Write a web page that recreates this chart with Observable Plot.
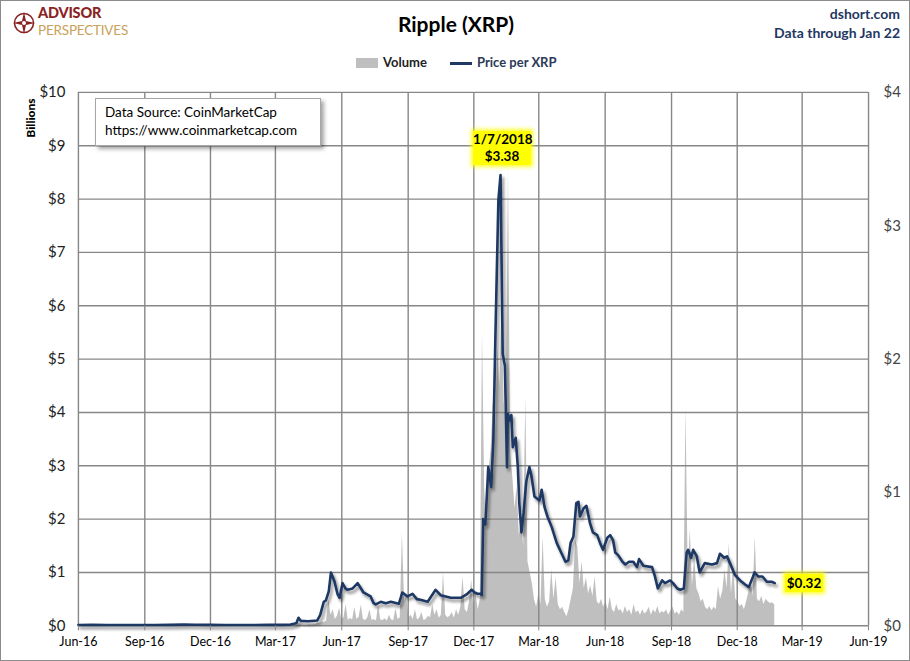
<!DOCTYPE html>
<html>
<head>
<meta charset="utf-8">
<script src="https://cdn.jsdelivr.net/npm/d3@7"></script>
<script src="https://cdn.jsdelivr.net/npm/@observablehq/plot@0.6"></script>
<style>
  html, body { margin: 0; padding: 0; background: #fff; }
  #wrap { position: relative; width: 910px; height: 661px; box-sizing: border-box; border: 1px solid #8c8c8c; overflow: hidden; font-family: Lato, "Open Sans", sans-serif; }
  #chart { position: absolute; left: -1px; top: -1px; }
  .ov { position: absolute; white-space: nowrap; }
</style>
</head>
<body>
<div id="wrap">
  <div id="chart"></div>
  <!-- logo -->
  <svg class="ov" style="left:11px;top:10px" width="24" height="24" viewBox="0 0 24 24">
    <circle cx="12" cy="12" r="9.5" fill="none" stroke="#8b2323" stroke-width="1.6"/>
    <polygon points="12,1 14,10 23,12 14,14 12,23 10,14 1,12 10,10" fill="#8b2323"/>
    <circle cx="12" cy="12" r="2" fill="#fff"/>
  </svg>
  <div class="ov" style="left:37px;top:5px;font-size:14.5px;font-weight:900;color:#8b2323;letter-spacing:-0.2px;line-height:14px;">ADVISOR</div>
  <div class="ov" style="left:37px;top:23px;font-size:13.5px;font-weight:400;color:#c8a15a;letter-spacing:-0.2px;line-height:12px;">PERSPECTIVES</div>
  <!-- title -->
  <div class="ov" style="left:0;width:910px;top:10px;text-align:center;font-size:21px;font-weight:700;color:#000;">Ripple (XRP)</div>
  <div class="ov" style="right:9px;top:4px;font-size:14px;font-weight:700;color:#1f3864;text-align:right;">dshort.com</div>
  <div class="ov" style="right:9px;top:23px;font-size:14px;font-weight:700;color:#1f3864;text-align:right;">Data through Jan 22</div>
  <!-- legend -->
  <div class="ov" style="left:355px;top:57px;width:22px;height:10px;background:#bfbfbf;"></div>
  <div class="ov" style="left:382px;top:53px;font-size:13px;font-weight:700;color:#222;">Volume</div>
  <div class="ov" style="left:449px;top:61px;width:22px;height:3px;background:#1f3864;"></div>
  <div class="ov" style="left:476px;top:53px;font-size:13px;font-weight:700;color:#2b3a57;">Price per XRP</div>
  <!-- y label -->
  <div class="ov" style="left:29px;top:117px;transform:translate(-50%,-50%) rotate(-90deg);font-size:12px;font-weight:900;color:#000;">Billions</div>
  <!-- data source box -->
  <div class="ov" style="left:94px;top:97px;width:226px;height:48px;box-sizing:border-box;background:#fff;border:1px solid #a6a6a6;box-shadow:3px 3px 4px rgba(0,0,0,0.35);padding:4px 0 0 9px;font-size:13.5px;line-height:18px;color:#000;">Data Source: CoinMarketCap<br>https://www.coinmarketcap.com</div>
  <!-- peak label -->
  <div class="ov" style="left:472px;top:130px;width:58px;height:34px;background:#ffff00;box-shadow:0 0 4px 2px rgba(255,255,0,0.8);text-align:center;font-size:13.5px;font-weight:700;line-height:17px;color:#000;">1/7/2018<br>$3.38</div>
  <!-- last label -->
  <div class="ov" style="left:784px;top:573px;width:38px;height:18px;background:#ffff00;box-shadow:0 0 4px 2px rgba(255,255,0,0.8);text-align:center;font-size:13.5px;font-weight:700;line-height:18px;color:#000;">$0.32</div>
</div>
<script>
// ---------- data ----------
const priceDates = [
"2016-06-01","2016-06-20","2016-07-10","2016-08-01","2016-08-25","2016-09-15","2016-10-05","2016-10-25","2016-11-10","2016-12-01",
"2016-12-20","2017-01-10","2017-02-01","2017-02-20","2017-03-10","2017-03-22","2017-03-30","2017-04-02","2017-04-05","2017-04-15",
"2017-04-28","2017-05-02","2017-05-07","2017-05-10","2017-05-14","2017-05-17","2017-05-22","2017-05-26","2017-05-29","2017-06-02",
"2017-06-06","2017-06-09","2017-06-16","2017-06-23","2017-07-01","2017-07-11","2017-07-15","2017-07-18","2017-07-25","2017-08-01",
"2017-08-08","2017-08-19","2017-08-24","2017-08-31","2017-09-07","2017-09-13","2017-09-18","2017-09-28","2017-10-09","2017-10-16",
"2017-10-30","2017-11-13","2017-11-22","2017-11-28","2017-12-02","2017-12-06","2017-12-10","2017-12-12","2017-12-14","2017-12-17",
"2017-12-21","2017-12-25","2017-12-28","2017-12-31","2018-01-04","2018-01-07","2018-01-10","2018-01-13","2018-01-16","2018-01-17",
"2018-01-20","2018-01-22","2018-01-24","2018-01-28","2018-01-31","2018-02-02","2018-02-05","2018-02-08","2018-02-11","2018-02-12",
"2018-02-16","2018-02-19","2018-02-23","2018-03-02","2018-03-05","2018-03-09","2018-03-13","2018-03-19","2018-03-23","2018-03-26",
"2018-04-01","2018-04-07","2018-04-11","2018-04-14","2018-04-18","2018-04-22","2018-04-25","2018-04-27","2018-05-02","2018-05-06",
"2018-05-11","2018-05-15","2018-05-21","2018-05-25","2018-05-29","2018-06-04","2018-06-08","2018-06-12","2018-06-15","2018-06-19",
"2018-06-25","2018-06-29","2018-07-04","2018-07-10","2018-07-15","2018-07-18","2018-07-24","2018-08-05","2018-08-09","2018-08-13",
"2018-08-19","2018-08-23","2018-08-30","2018-09-03","2018-09-09","2018-09-13","2018-09-18","2018-09-22","2018-09-24","2018-09-28",
"2018-10-01","2018-10-06","2018-10-10","2018-10-17","2018-10-27","2018-11-03","2018-11-07","2018-11-13","2018-11-17","2018-11-21",
"2018-11-28","2018-12-05","2018-12-12","2018-12-17","2018-12-23","2018-12-25","2018-12-30","2019-01-05","2019-01-11","2019-01-18",
"2019-01-22"];
const priceValues = [
0.006,0.007,0.0065,0.0062,0.006,0.0065,0.0072,0.0085,0.008,0.0068,
0.0063,0.0064,0.0065,0.0068,0.0068,0.009,0.02,0.06,0.038,0.034,
0.04,0.08,0.18,0.19,0.26,0.40,0.33,0.24,0.21,0.32,
0.28,0.27,0.28,0.32,0.25,0.22,0.17,0.16,0.18,0.17,
0.18,0.165,0.25,0.22,0.24,0.20,0.195,0.18,0.27,0.23,
0.21,0.21,0.24,0.27,0.25,0.24,0.24,0.23,0.80,0.76,
1.19,1.04,1.39,2.20,3.19,3.38,2.04,1.95,1.19,1.59,
1.54,1.58,1.34,1.41,1.19,0.92,0.70,0.85,1.04,1.09,
1.19,1.12,0.97,0.94,1.02,0.89,0.82,0.74,0.67,0.62,
0.55,0.48,0.49,0.62,0.67,0.92,0.93,0.82,0.88,0.90,
0.77,0.70,0.68,0.62,0.57,0.66,0.68,0.64,0.55,0.53,
0.48,0.46,0.48,0.48,0.44,0.50,0.45,0.44,0.37,0.28,
0.34,0.32,0.34,0.32,0.28,0.27,0.28,0.55,0.57,0.51,
0.57,0.52,0.40,0.47,0.46,0.47,0.54,0.51,0.52,0.47,
0.38,0.34,0.31,0.29,0.37,0.40,0.37,0.37,0.33,0.33,
0.32];

// volume, $ billions: sparse early readings, then one reading every 3 days from 2017-03-30 to 2019-01-22
const earlyVolumeDates = ["2016-06-01","2016-09-01","2016-12-01","2017-03-01","2017-03-25"];
const earlyVolumeValues = [0.0005,0.001,0.001,0.002,0.005];
const volumeStart = "2017-03-30";
const volumeStepDays = 3;
const volumeValues = [
0.01,0.05,0.02,0.015,0.01,0.012,0.02,0.015,0.02,0.025,
0.05,0.04,0.07,0.06,0.09,
0.49,0.2,0.3,0.12,0.18,
0.33,0.12,0.15,0.4,0.1,0.14,0.11,0.35,0.12,0.16,
0.39,0.12,0.1,0.15,0.3,0.1,0.12,0.09,0.38,0.11,
0.1,0.13,0.09,0.2,0.11,0.1,0.32,0.12,0.15,1.74,
0.45,0.54,0.15,0.2,0.12,0.3,0.11,0.14,0.25,0.1,
0.12,0.18,0.15,0.4,0.2,0.3,0.14,0.2,1.0,0.2,
0.15,0.18,0.25,0.14,0.3,0.2,0.35,0.92,0.3,0.25,
0.45,0.86,0.35,0.6,0.3,
0.5,5.5,2.6,1.8,2.9,
3.3,4.2,3.6,5.2,4.5,6.0,4.2,3.8,8.6,3.2,
2.8,2.2,2.6,1.7,2.0,1.5,4.3,1.2,1.0,0.8,
0.5,0.35,0.6,0.4,1.67,0.5,0.35,0.45,1.05,0.5,
0.9,0.4,0.3,0.35,0.25,0.17,0.3,0.5,0.7,1.6,
1.48,0.8,1.2,0.7,0.9,0.6,0.75,0.55,0.92,0.45,
0.4,0.5,0.35,0.45,0.3,0.54,0.3,0.25,0.4,0.28,
0.3,0.22,0.36,0.25,0.3,0.2,0.4,0.24,0.28,0.2,
0.3,0.22,0.26,0.35,0.2,0.3,0.24,0.36,0.22,0.27,
0.24,0.3,0.2,0.28,0.35,0.22,0.26,0.2,0.3,0.25,
4.1,1.0,1.8,0.75,1.3,0.7,0.6,0.45,0.5,0.35,
0.3,0.36,0.28,0.35,0.3,0.73,0.5,0.65,1.05,0.7,
1.55,0.6,1.1,0.5,0.45,0.36,0.4,0.3,0.45,0.62,
0.86,0.55,1.67,0.5,0.45,0.55,0.4,0.5,0.45,0.42,
0.43,0.39];

const xTickDates = ["2016-06-01","2016-09-01","2016-12-01","2017-03-01","2017-06-01","2017-09-01","2017-12-01","2018-03-01","2018-06-01","2018-09-01","2018-12-01","2019-03-01","2019-06-01"];
const leftTicks = [0,1,2,3,4,5,6,7,8,9,10];
const rightTicks = [0,1,2,3,4];
const priceToBillions = 2.5; // $4 price axis top aligns with $10B

// ---------- build ----------
const parse = d3.utcParse("%Y-%m-%d");
const price = priceDates.map((d, i) => ({date: parse(d), price: priceValues[i]}));
const v0 = parse(volumeStart);
const volume = earlyVolumeDates.map((d, i) => ({date: parse(d), vol: earlyVolumeValues[i]}))
  .concat(volumeValues.map((v, i) => ({date: d3.utcDay.offset(v0, i * volumeStepDays), vol: v})));
const xTicks = xTickDates.map(parse);

const grid = "#878787";
const chart = Plot.plot({
  width: 910,
  height: 661,
  marginLeft: 78,
  marginRight: 41,
  marginTop: 92,
  marginBottom: 35,
  style: {background: "transparent", fontFamily: "Lato, 'Open Sans', sans-serif", overflow: "visible"},
  x: {type: "utc", domain: [xTicks[0], xTicks[xTicks.length - 1]]},
  y: {domain: [0, 10]},
  marks: [
    Plot.areaY(volume, {x: "date", y: "vol", fill: "#bfbfbf", curve: "linear"}),
    Plot.ruleY(leftTicks, {stroke: grid, strokeWidth: 1.4}),
    Plot.ruleX(xTicks, {stroke: grid, strokeWidth: 1.4, y1: 0, y2: 10}),
    Plot.lineY(price, {x: "date", y: d => d.price * priceToBillions, stroke: "#1f3864", strokeWidth: 2.6, curve: "linear"}),
    Plot.axisY({anchor: "left", ticks: leftTicks, tickFormat: d => "$" + d, tickSize: 0, tickPadding: 13, fontSize: 15, fill: "#222", label: null}),
    Plot.axisY({anchor: "right", ticks: rightTicks.map(t => t * priceToBillions), tickFormat: d => "$" + (d / priceToBillions), tickSize: 0, tickPadding: 15, fontSize: 15, fill: "#444", label: null}),
    Plot.axisX({ticks: xTicks, tickFormat: d3.utcFormat("%b-%y"), tickSize: 5, tickPadding: 6, fontSize: 12.5, fill: "#000", stroke: grid, label: null})
  ]
});
document.getElementById("chart").appendChild(chart);

// drop shadow for the price line
const svg = d3.select(chart);
const defs = svg.insert("defs", ":first-child");
const f = defs.append("filter").attr("id", "shadow").attr("x", "-5%").attr("y", "-5%").attr("width", "115%").attr("height", "115%");
f.append("feGaussianBlur").attr("in", "SourceAlpha").attr("stdDeviation", 1.6);
f.append("feOffset").attr("dx", 2.5).attr("dy", 3).attr("result", "ob");
const ct = f.append("feComponentTransfer").attr("in", "ob").attr("result", "sh");
ct.append("feFuncA").attr("type", "linear").attr("slope", 0.45);
const m = f.append("feMerge");
m.append("feMergeNode").attr("in", "sh");
m.append("feMergeNode").attr("in", "SourceGraphic");
svg.selectAll('g[aria-label="line"]').attr("filter", "url(#shadow)");
</script>
</body>
</html>
